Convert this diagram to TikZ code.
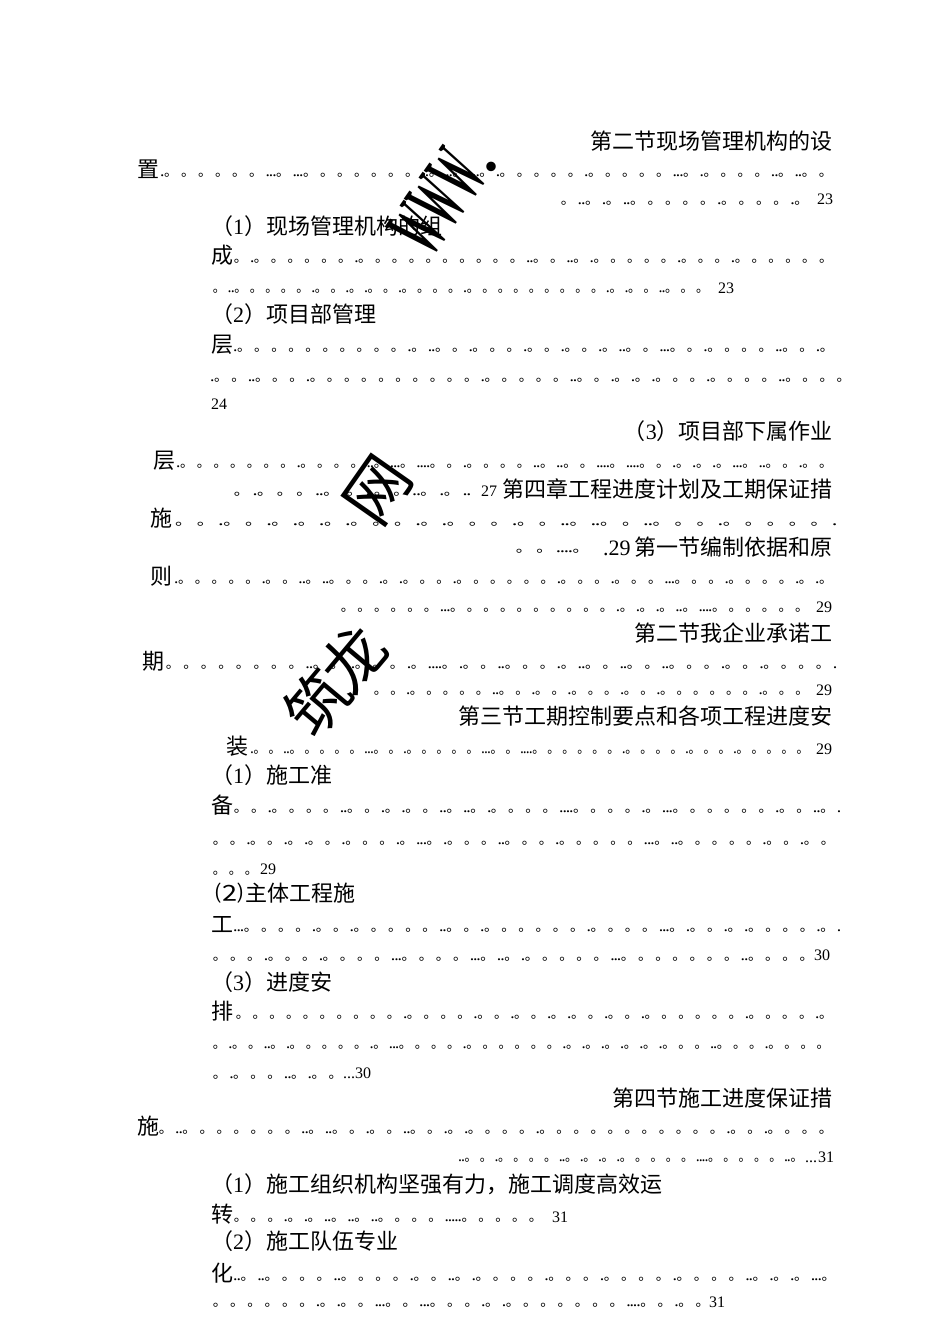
\documentclass[tikz,border=0pt]{standalone}
\usepackage{fontspec}
\usepackage{graphicx}
\setmainfont{Liberation Serif}
\newfontfamily\cjk{Noto Sans CJK SC}
\newcommand{\szA}{\fontsize{22}{22}\selectfont}
\newcommand{\ringch}{\makebox[16.5pt][l]{\hspace{0.6pt}\fontsize{13.5}{13.5}\selectfont\cjk 。}}
\newcommand{\dotch}{\makebox[3.2pt][l]{\fontsize{17}{17}\selectfont .}}
\makeatletter
\newcommand{\runp}[1]{\run@p#1\relax}
\def\run@p#1{\ifx#1\relax\else\ifx#1o\ringch\else\dotch\fi\expandafter\run@p\fi}
\makeatother
\newcommand{\DL}[4]{\node[anchor=base west,inner sep=0pt,yshift=1pt] at (#1,#3) {\resizebox{\dimexpr #2pt-#1pt\relax}{\height}{\runp{#4}}};}
\newcommand{\TL}[3]{\node[anchor=base west,inner sep=0pt] at (#1,#2) {\szA\cjk #3};}
\newcommand{\TR}[2]{\node[anchor=base east,inner sep=0pt] at (833,#1) {\szA\cjk #2};}
\newcommand{\NB}[3]{\node[anchor=base west,inner sep=0pt] at (#1,#2) {\fontsize{16}{16}\selectfont #3};}
\newcommand{\PN}[1]{（{\rmfamily #1}）}
\tikzset{wm/.style={inner sep=0pt,anchor=center}}
\begin{document}
\begin{tikzpicture}[x=1pt,y=-1pt]
\useasboundingbox (0,0) rectangle (950,1344);
\fill[white] (0,0) rectangle (950,1344);
% ---- lines
\TR{149}{第二节现场管理机构的设}
\TL{137}{177}{置}
\DL{160}{835}{177}{.o o o o o o ...o ...o o o o o o o ..o ..o ...o .o o o o o .o o o o o ...o .o o o o ..o ..o o}
\DL{560}{811}{205}{o ..o .o ..o o o o o .o o o o .o}
\NB{817}{204}{23}
\TL{211}{234}{\PN{1}现场管理机构的组}
\TL{211}{263}{成}
\DL{233}{835}{263}{o .o o o o o o .o o o o o o o o o o ..o o ..o .o o o o o .o o o .o o o o o o}
\DL{212}{711}{293}{o ..o o o o o .o o .o .o o .o o o o .o o o o o o o o o .o .o o ..o o o}
\NB{718}{293}{23}
\TL{211}{322}{\PN{2}项目部管理}
\TL{211}{352}{层}
\DL{233}{836}{352}{.o o o o o o o o o o .o ..o o .o o o .o o .o o .o ..o o ...o o .o o o o ..o o .o}
\DL{210}{853}{382}{.o o ..o o o .o o o o o o o o o o .o o o o o ..o o .o .o .o o o .o o o o ..o o o o}
\NB{211}{409}{24}
\TR{439}{\PN{3}项目部下属作业}
\TL{153}{468}{层}
\DL{176}{835}{468}{.o o o o o o o .o o o o ..o ...o ....o o .o o o o ..o ..o o ....o ....o o .o .o .o ...o ..o o .o o}
\DL{233}{470}{496}{o .o o o ..o .o ..o o ..o .o ..}
\NB{481}{496}{27}
\TR{497}{第四章工程进度计划及工期保证措}
\TL{150}{526}{施}
\DL{174}{836}{526}{o o .o o .o .o .o .o o o .o .o o o .o o ..o ..o o ..o o o .o o o o o .}
\DL{515}{592}{553}{o o ....o}
\node[anchor=base west,inner sep=0pt] at (603,555) {\szA .29};
\TR{555}{第一节编制依据和原}
\TL{150}{584}{则}
\DL{174}{835}{584}{.o o o o o .o o ..o ..o o o .o .o o o .o o o o o o .o o o .o o o ...o o o .o o o o .o .o}
\DL{340}{811}{612}{o o o o o o ...o o o o o o o o o o .o .o .o ..o ....o o o o o o}
\NB{816}{612}{29}
\TR{641}{第二节我企业承诺工}
\TL{142}{669}{期}
\DL{165}{836}{669}{o o o o o o o o ..o o ..o o o .o ....o .o o ..o o o .o ..o o ..o o ..o o o .o o .o o o o .}
\DL{373}{811}{695}{o o .o o o o o ..o o .o o .o o o .o o .o o o o o o .o o o}
\NB{816}{695}{29}
\TR{724}{第三节工期控制要点和各项工程进度安}
\TL{226}{754}{装}
\DL{250}{811}{754}{.o o ..o o o o o ...o o .o o o o o ...o o ....o o o o o o .o o o o .o o o .o o o o o}
\NB{816}{754}{29}
\TL{211}{783}{\PN{1}施工准}
\TL{211}{813}{备}
\DL{233}{840}{813}{o o .o o o o ..o o .o .o o ..o ..o .o o o o ....o o o o .o ...o o o o o o .o o ..o .}
\DL{212}{837}{845}{o o .o o .o .o o .o o o .o ...o .o o o ..o o o .o o o o o ...o ..o o o o o .o o .o o}
\DL{212}{260}{875}{o o o}
\NB{260}{874}{29}
\node[anchor=base west,inner sep=0pt] at (215,901) {\resizebox{28pt}{\height}{\szA\cjk ⑵}};
\TL{245}{901}{主体工程施}
\TL{211}{932}{工}
\DL{233}{840}{932}{...o o o o .o o .o o o o o ..o o .o o o o o o .o o o o ...o .o o .o .o o o o .o .}
\DL{212}{816}{961}{o o o .o o o .o o o o ...o o o o ...o ..o .o o o o o ...o o o o o o o ..o o o o}
\NB{814}{960}{30}
\TL{211}{990}{\PN{3}进度安}
\TL{211}{1019}{排}
\DL{235}{835}{1019}{o o o o o o o o o o .o o o o .o o .o o .o .o o .o o .o o o o o o .o o o o .o}
\DL{212}{832}{1049}{o .o o ..o .o o o o o .o ...o o o o .o o o o o o .o .o .o .o .o .o o o ..o o o .o o o o}
\DL{212}{345}{1079}{o .o o o ..o .o o}
\NB{343}{1078}{...30}
\TR{1106}{第四节施工进度保证措}
\TL{137}{1134}{施}
\DL{158}{835}{1134}{o ..o o o o o o o ..o ..o o .o o ..o o .o .o o o o .o o o o o o o o o o o .o o .o o o o}
\DL{458}{805}{1162}{..o o .o o o o ..o .o .o .o o o o o ....o o o o o ..o}
\NB{818}{1162}{31}
\node[anchor=base west,inner sep=0pt] at (805,1162) {\fontsize{16}{16}\selectfont ...};
\TL{211}{1192}{\PN{1}施工组织机构坚强有力，施工调度高效运}
\TL{211}{1222}{转}
\DL{233}{545}{1222}{o o o .o .o ..o ..o ..o o o o .....o o o o o}
\NB{552}{1222}{31}
\TL{211}{1249}{\PN{2}施工队伍专业}
\TL{211}{1281}{化}
\DL{233}{838}{1281}{..o ..o o o o ..o o o o .o o ..o .o o o o .o o o .o o o o .o o o o ..o .o .o ...o}
\DL{212}{712}{1307}{o o o o o o .o .o o ...o o ...o o o .o .o o o o o o o ....o o .o o}
\NB{709}{1307}{31}
% ---- rotated stamp
\node[wm,rotate=55] at (437,202) {\scalebox{0.40}[1]{\fontsize{85}{85}\selectfont\bfseries WWW}};
\node[wm] at (491,167) {\fontsize{80}{80}\selectfont .};
\node[wm,rotate=55] at (378,490) {\fontsize{64}{64}\selectfont\cjk 网};
\node[wm,rotate=50] at (353,658) {\fontsize{62}{62}\selectfont\cjk 龙};
\node[wm,rotate=50] at (317,702) {\fontsize{62}{62}\selectfont\cjk 筑};
\end{tikzpicture}
\end{document}
